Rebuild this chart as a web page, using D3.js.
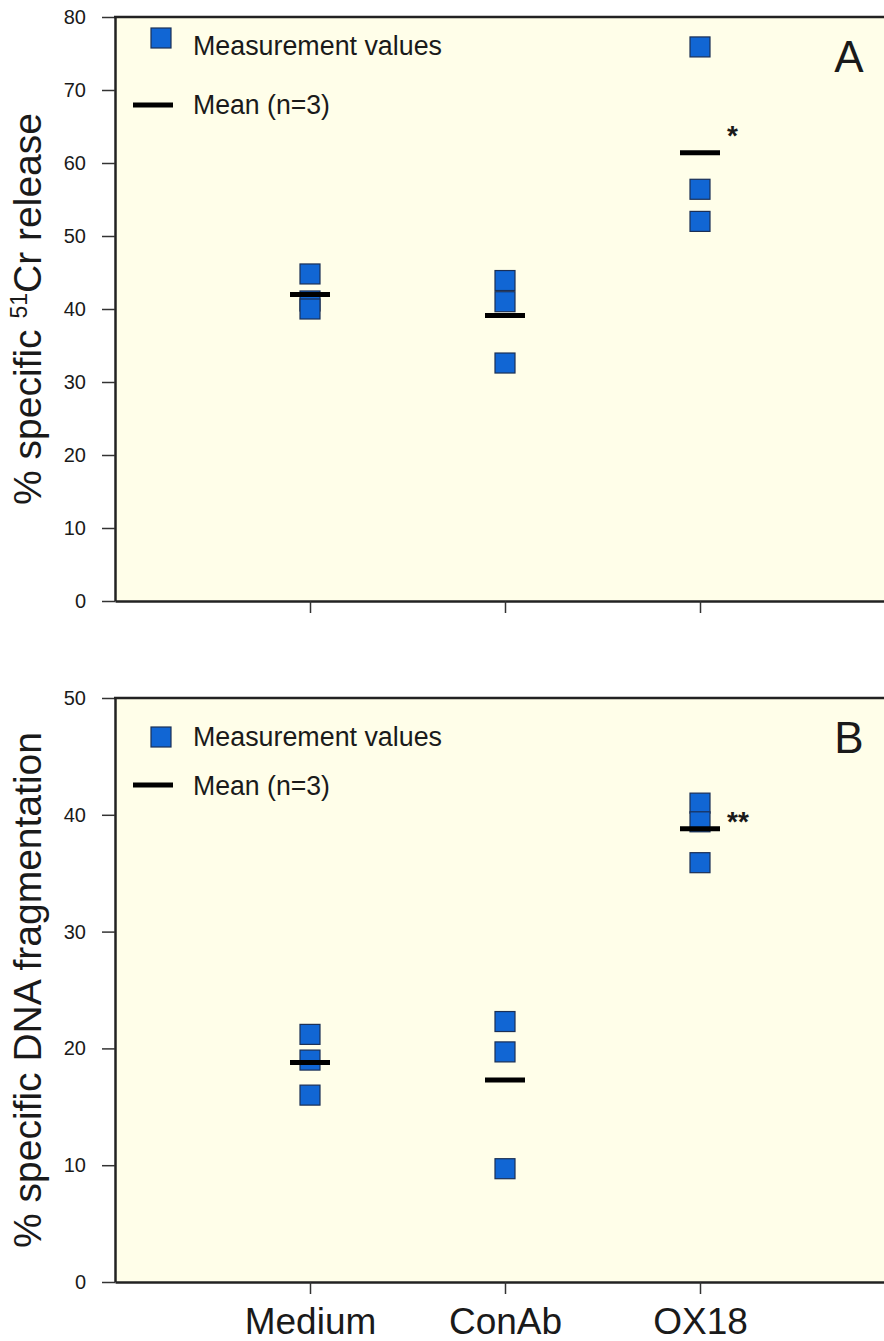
<!DOCTYPE html>
<html>
<head>
<meta charset="utf-8">
<script src="https://cdn.jsdelivr.net/npm/d3@7"></script>
<style>
  body { margin: 0; background: #ffffff; }
  svg { display: block; }
  text { font-family: Arial, "Liberation Sans", Helvetica, sans-serif; fill: #1a1a1a; }
</style>
</head>
<body>
<svg id="chart" width="884" height="1341"></svg>
<script>
// ---- data ----
const categories = ["Medium", "ConAb", "OX18"];
const crValues = [[44.8, 41.1, 40.0], [43.9, 41.0, 32.6], [75.9, 56.4, 52.0]];
const crMeans = [42.0, 39.1, 61.4];
const dnaValues = [[21.2, 19.0, 16.0], [22.3, 19.7, 9.7], [41.0, 39.4, 35.9]];
const dnaMeans = [18.8, 17.3, 38.8];
const crTicks = [0, 10, 20, 30, 40, 50, 60, 70, 80];
const dnaTicks = [0, 10, 20, 30, 40, 50];
const significance = [["", "", "*"], ["", "", "**"]];
const legendLabels = ["Measurement values", "Mean (n=3)"];
const panelLetters = ["A", "B"];

const svg = d3.select("#chart");
const plotLeft = 115, plotRight = 900;
const x = d3.scaleLinear().domain([0, 4]).range([plotLeft, plotLeft + 4 * 195]);

const panels = [
  { values: crValues, means: crMeans, ticks: crTicks, domain: [0, 80], top: 17, bottom: 601,
    sig: significance[0], sigDy: -8, letter: panelLetters[0], ylabel: "cr",
    legend: { sq: 38, t1: 55, line: 105, t2: 114 } },
  { values: dnaValues, means: dnaMeans, ticks: dnaTicks, domain: [0, 50], top: 698, bottom: 1282,
    sig: significance[1], sigDy: 2, letter: panelLetters[1], ylabel: "dna",
    legend: { sq: 737, t1: 746, line: 785, t2: 795 } }
];

panels.forEach((p, pi) => {
  const y = d3.scaleLinear().domain(p.domain).range([p.bottom, p.top]);
  const g = svg.append("g");

  // plot background
  g.append("rect")
    .attr("x", plotLeft).attr("y", p.top)
    .attr("width", plotRight - plotLeft).attr("height", p.bottom - p.top)
    .attr("fill", "#fffee9");

  // y axis
  const yAxis = d3.axisLeft(y).tickValues(p.ticks).tickSize(13).tickSizeOuter(0)
    .tickPadding(16).tickFormat(d3.format("d"));
  const ya = g.append("g").attr("transform", `translate(${plotLeft},0)`).call(yAxis);
  ya.select(".domain").attr("stroke", "#222").attr("stroke-width", 2.5);
  ya.selectAll(".tick line").attr("stroke", "#333").attr("stroke-width", 1.5);
  ya.selectAll(".tick text").style("font-size", "20px").attr("fill", "#222")
    .style("font-family", "Arial, 'Liberation Sans', sans-serif");

  // x axis
  const xAxis = d3.axisBottom(x).tickValues([1, 2, 3]).tickSize(12).tickSizeOuter(0).tickPadding(14)
    .tickFormat(d => pi === 1 ? categories[d - 1] : "");
  const xa = g.append("g").attr("transform", `translate(0,${p.bottom})`).call(xAxis);
  xa.select(".domain").attr("stroke", "#222").attr("stroke-width", 2.5);
  xa.selectAll(".tick line").attr("stroke", "#333").attr("stroke-width", 1.5);
  xa.selectAll(".tick text").style("font-size", "37px").attr("fill", "#111")
    .style("font-family", "Arial, 'Liberation Sans', sans-serif");

  // top border line
  g.append("line")
    .attr("x1", plotLeft - 1).attr("x2", plotRight)
    .attr("y1", p.top).attr("y2", p.top)
    .attr("stroke", "#222").attr("stroke-width", 2.5);

  // data squares
  const pts = [];
  p.values.forEach((vals, ci) => vals.forEach(v => pts.push({ ci, v })));
  const sq = 20;
  g.selectAll("rect.pt").data(pts).enter().append("rect")
    .attr("class", "pt")
    .attr("x", d => x(d.ci + 1) - sq / 2)
    .attr("y", d => y(d.v) - sq / 2)
    .attr("width", sq).attr("height", sq)
    .attr("fill", "#1166d4").attr("stroke", "#1b2f55").attr("stroke-width", 1.2);

  // mean lines
  g.selectAll("line.mean").data(p.means).enter().append("line")
    .attr("class", "mean")
    .attr("x1", (d, i) => x(i + 1) - 20).attr("x2", (d, i) => x(i + 1) + 20)
    .attr("y1", d => y(d)).attr("y2", d => y(d))
    .attr("stroke", "#000").attr("stroke-width", 5);

  // significance marks
  p.sig.forEach((s, i) => {
    if (!s) return;
    g.append("text")
      .attr("x", x(i + 1) + 27)
      .attr("y", y(p.means[i]) + p.sigDy)
      .style("font-size", "28px").style("font-weight", "bold")
      .text(s);
  });

  // legend
  g.append("rect").attr("x", 151).attr("y", p.legend.sq - 10).attr("width", 20).attr("height", 20)
    .attr("fill", "#1166d4").attr("stroke", "#1b2f55").attr("stroke-width", 1.2);
  g.append("text").attr("x", 193).attr("y", p.legend.t1).style("font-size", "27px")
    .attr("textLength", 249).attr("lengthAdjust", "spacingAndGlyphs").text(legendLabels[0]);
  g.append("line").attr("x1", 133).attr("x2", 173).attr("y1", p.legend.line).attr("y2", p.legend.line)
    .attr("stroke", "#000").attr("stroke-width", 5);
  g.append("text").attr("x", 193).attr("y", p.legend.t2).style("font-size", "27px")
    .attr("textLength", 137).attr("lengthAdjust", "spacingAndGlyphs").text(legendLabels[1]);

  // panel letter
  g.append("text").attr("x", 849).attr("y", p.top + 55).attr("text-anchor", "middle")
    .style("font-size", "44px").text(p.letter);

  // y label
  const cy = (p.top + p.bottom) / 2;
  const lab = g.append("text")
    .attr("transform", `translate(41,${cy}) rotate(-90)`)
    .attr("text-anchor", "middle")
    .style("font-size", "39px");
  if (p.ylabel === "cr") {
    lab.append("tspan").text("% specific ");
    lab.append("tspan").attr("dy", -14).style("font-size", "23px").text("51");
    lab.append("tspan").attr("dy", 14).text("Cr release");
  } else {
    lab.text("% specific DNA fragmentation");
  }
});
</script>
</body>
</html>
